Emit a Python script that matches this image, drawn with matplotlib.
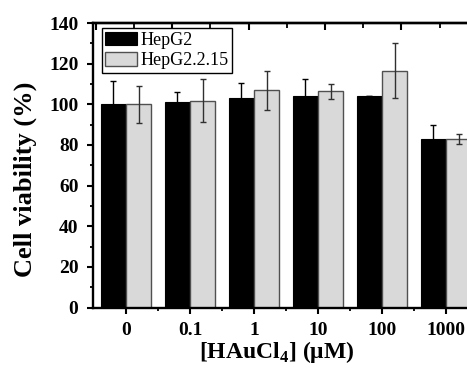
import matplotlib
matplotlib.use("Agg")
import matplotlib.pyplot as plt
import numpy as np
from matplotlib.ticker import MultipleLocator, FixedLocator

concentrations = ['0', '0.1', '1', '10', '100', '1000']
hepg2 = [100, 101.3, 103.2, 104.1, 104.1, 82.9]
hepg2_err = [11.3, 4.8, 7.2, 8.2, 0.0, 6.9]
hepg215 = [100, 101.8, 106.8, 106.3, 116.5, 82.9]
hepg215_err = [9.0, 10.6, 9.5, 3.6, 13.5, 2.5]

plt.rcParams['font.family'] = ['Liberation Serif', 'DejaVu Serif']
plt.rcParams['mathtext.fontset'] = 'custom'
plt.rcParams['mathtext.rm'] = 'Liberation Serif'
plt.rcParams['mathtext.bf'] = 'Liberation Serif:bold'

fig = plt.figure(figsize=(4.67, 3.73), dpi=100)
W, H = 467, 373
x0, x1 = 93, 479
y0, y1 = 307.5, 23
ax = fig.add_axes([x0 / W, (H - y0) / H, (x1 - x0) / W, (y0 - y1) / H])

x = np.arange(len(concentrations))
bw = 0.395
ax.bar(x - bw / 2, hepg2, bw, color='black', edgecolor='black', linewidth=0.8,
       label='HepG2', zorder=2)
ax.bar(x + bw / 2, hepg215, bw, color='#d9d9d9', edgecolor='#505050', linewidth=1.0,
       label='HepG2.2.15', zorder=2)
ax.errorbar(x - bw / 2, hepg2, yerr=hepg2_err, fmt='none', ecolor='black',
            elinewidth=1.0, capsize=2.5, capthick=1.0, zorder=3)
ax.errorbar(x + bw / 2, hepg215, yerr=hepg215_err, fmt='none', ecolor='#303030',
            elinewidth=1.0, capsize=2.5, capthick=1.0, zorder=3)

ax.set_xlim(-0.516, 5.516)
ax.set_ylim(0, 140)
ax.xaxis.set_major_locator(FixedLocator(x))
ax.xaxis.set_minor_locator(FixedLocator(x[:-1] + 0.5))
ax.set_xticklabels(concentrations)
ax.yaxis.set_major_locator(MultipleLocator(20))
ax.yaxis.set_minor_locator(MultipleLocator(10))

for s in ax.spines.values():
    s.set_linewidth(1.7)
ax.tick_params(axis='both', which='major', direction='out', length=4.5, width=1.5,
               labelsize=14, top=False, right=False)
ax.tick_params(axis='both', which='minor', direction='out', length=2.5, width=1.3,
               top=False, right=False)
ax.tick_params(axis='x', which='major', pad=6)
ax.tick_params(axis='y', which='major', pad=6)
for lab in ax.get_xticklabels() + ax.get_yticklabels():
    lab.set_fontweight('bold')

# top axis ticks (independent scale as in the original)
def fwd(v):
    return (64 * v - 8) / 38.2

def inv(u):
    return (38.2 * u + 8) / 64

sec = ax.secondary_xaxis('top', functions=(fwd, inv))
sec.xaxis.set_major_locator(MultipleLocator(2, offset=1))
sec.xaxis.set_minor_locator(MultipleLocator(2))
sec.tick_params(which='major', direction='in', length=5, width=1.5, labelsize=0,
                labeltop=False)
sec.tick_params(which='minor', direction='in', length=3.5, width=1.3)
sec.spines['top'].set_linewidth(1.7)

ax.set_ylabel('Cell viability (%)', fontsize=19, fontweight='bold')
ax.yaxis.label.set_va('center')
ax.yaxis.set_label_coords(-0.175, 0.45)
ax.set_xlabel(r'[HAuCl$_\mathbf{4}$] ($\mathbf{\mu}$M)', fontsize=17, fontweight='bold')
ax.xaxis.label.set_va('center')
ax.xaxis.set_label_coords(0.477, -0.156)

leg = ax.legend(loc='upper left', bbox_to_anchor=(0.023, 0.982), fontsize=13,
                frameon=True, fancybox=False, edgecolor='black', framealpha=1,
                handlelength=1.75, handleheight=0.75, handletextpad=0.2,
                borderpad=0.2, labelspacing=0.2, borderaxespad=0)
leg.get_frame().set_linewidth(1.0)
leg.set_zorder(2.5)

fig.savefig('out.png', dpi=100)
